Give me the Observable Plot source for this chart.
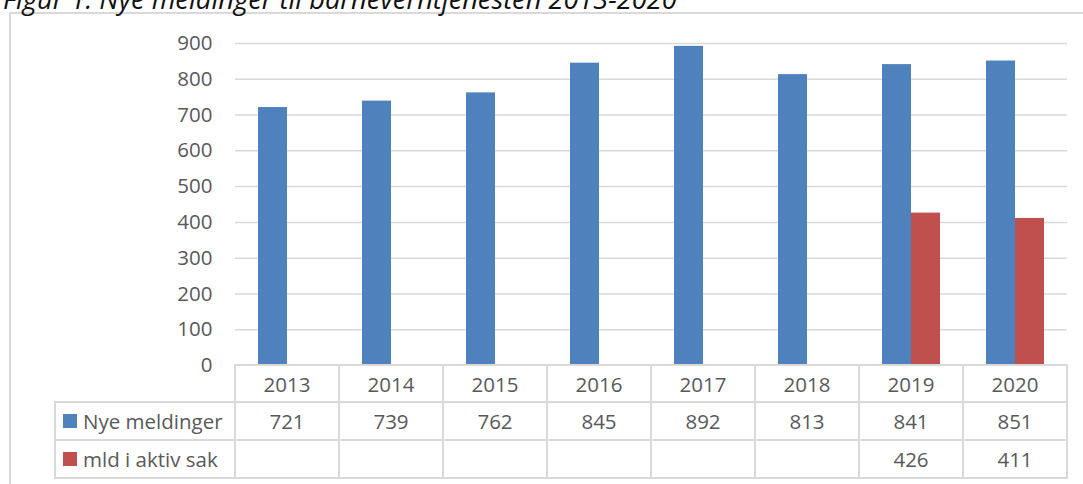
<!DOCTYPE html>
<html>
<head>
<meta charset="utf-8">
<script src="https://cdn.jsdelivr.net/npm/d3@7"></script>
<script src="https://cdn.jsdelivr.net/npm/@observablehq/plot@0.6"></script>
<style>
  html, body { margin: 0; padding: 0; background: #fff; }
  body { width: 1083px; height: 484px; position: relative; overflow: hidden; font-family: "Open Sans", sans-serif; }
  #title { position: absolute; left: 3px; top: -11px; line-height: 20px; font-style: italic; color: #111; white-space: nowrap; font-size: 20px; }
  #frame { position: absolute; left: 9px; top: 12px; width: 2000px; height: 1000px; border-left: 2px solid #D9D9D9; border-top: 2px solid #D9D9D9; }
  #chart { position: absolute; left: 0; top: 0; }
  .cell { position: absolute; box-sizing: border-box; border: 2px solid #D9D9D9; display: flex; align-items: center; justify-content: center; color: #595959; font-size: 20.5px; white-space: nowrap; }
  .cell.label { justify-content: flex-start; padding-left: 7px; }
  .swatch { display: inline-block; width: 14px; height: 14px; margin-right: 6px; }
</style>
</head>
<body>
<div id="frame"></div>
<div id="title">Figur 1: Nye meldinger til barneverntjenesten 2013-2020</div>
<div id="chart"></div>
<div id="table"></div>
<script>
const years = ["2013", "2014", "2015", "2016", "2017", "2018", "2019", "2020"];
const nyeMeldinger = [721, 739, 762, 845, 892, 813, 841, 851];
const mldAktivSak = [null, null, null, null, null, null, 426, 411];
const seriesNames = ["Nye meldinger", "mld i aktiv sak"];
const seriesColors = ["#4F81BD", "#C0504D"];
const seriesValues = [nyeMeldinger, mldAktivSak];
const yTicks = [0, 100, 200, 300, 400, 500, 600, 700, 800, 900];

const data = years.flatMap((yr, i) =>
  seriesNames.map((s, k) => ({year: yr, series: s, value: seriesValues[k][i]}))
).filter(d => d.value != null);

const plot = Plot.plot({
  width: 1083,
  height: 365,
  marginLeft: 233,
  marginRight: 14,
  marginTop: 43,
  marginBottom: 0,
  style: {background: "transparent", fontFamily: "'Open Sans', sans-serif", fontSize: "20.5px", color: "#595959", overflow: "visible"},
  fx: {domain: years, padding: 0, axis: null, label: null},
  x: {domain: seriesNames, paddingInner: 0, paddingOuter: 0.771, axis: null, label: null},
  y: {domain: [0, 900], ticks: yTicks, tickSize: 0, tickPadding: 23, label: null, tickFormat: d => String(d)},
  color: {domain: seriesNames, range: seriesColors},
  marks: [
    Plot.ruleY(yTicks.filter(t => t > 0), {stroke: "#D9D9D9", strokeWidth: 1.5}),
    Plot.barY(data, {fx: "year", x: "series", y: "value", fill: "series"})
  ]
});
document.getElementById("chart").appendChild(plot);

// Data table below the chart, columns aligned to the plot's fx scale
const fx = plot.scale("fx");
const bw = fx.bandwidth;
const rowEdges = [365, 402, 440, 478];
const labelLeft = 55;
const table = document.getElementById("table");
function addCell(x0, x1, y0, y1, html, cls) {
  const d = document.createElement("div");
  d.className = "cell" + (cls ? " " + cls : "");
  d.style.left = (x0 - 1) + "px";
  d.style.top = (y0 - 1) + "px";
  d.style.width = (x1 - x0 + 2) + "px";
  d.style.height = (y1 - y0 + 2) + "px";
  d.innerHTML = html;
  table.appendChild(d);
}
years.forEach((yr, i) => {
  const x0 = fx.apply(yr), x1 = x0 + bw;
  addCell(x0, x1, rowEdges[0], rowEdges[1], yr);
  seriesValues.forEach((vals, k) => {
    addCell(x0, x1, rowEdges[k + 1], rowEdges[k + 2], vals[i] == null ? "" : String(vals[i]));
  });
});
const firstX = fx.apply(years[0]);
seriesNames.forEach((s, k) => {
  addCell(labelLeft, firstX, rowEdges[k + 1], rowEdges[k + 2],
    `<span class="swatch" style="background:${seriesColors[k]}"></span>${s}`, "label");
});

// fit title width to reference
const title = document.getElementById("title");
const w = title.getBoundingClientRect().width;
title.style.fontSize = (20 * 674 / w) + "px";
</script>
</body>
</html>
